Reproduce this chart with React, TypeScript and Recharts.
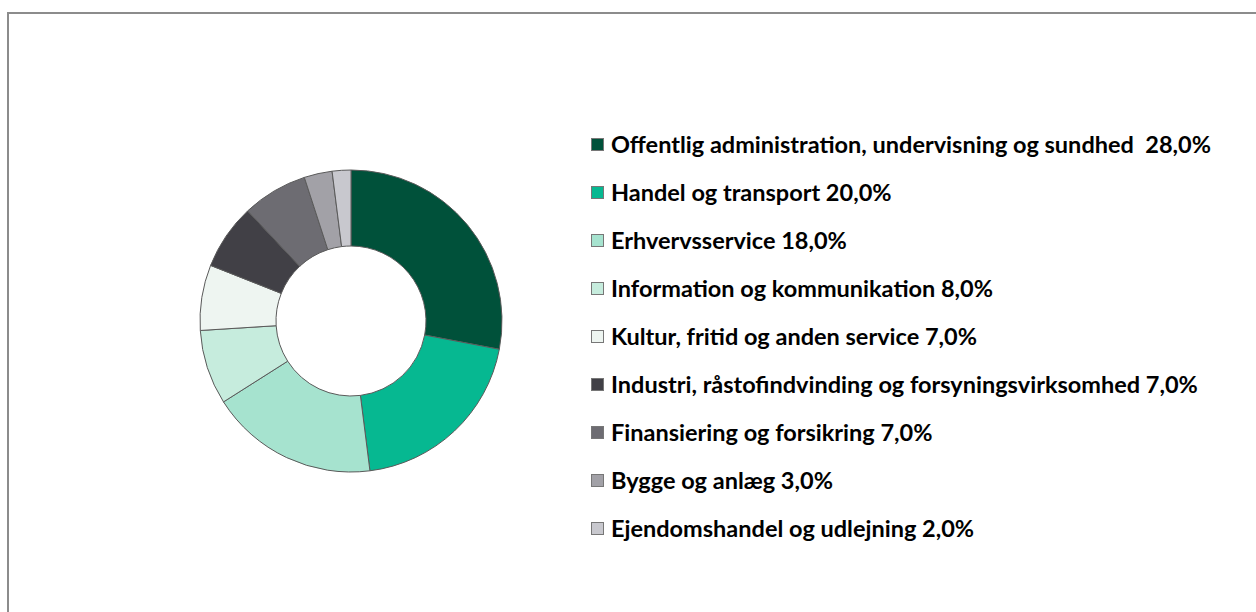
import { PieChart, Pie, Cell, Legend } from 'recharts';

const sectors = [
  'Offentlig administration, undervisning og sundhed ',
  'Handel og transport',
  'Erhvervsservice',
  'Information og kommunikation',
  'Kultur, fritid og anden service',
  'Industri, råstofindvinding og forsyningsvirksomhed',
  'Finansiering og forsikring',
  'Bygge og anlæg',
  'Ejendomshandel og udlejning',
];
const shares = [28, 20, 18, 8, 7, 7, 7, 3, 2];
const colors = ['#00513a', '#06b891', '#a6e3cf', '#c6ecdd', '#eef5f1', '#414046', '#6d6c72', '#a2a1a7', '#c8c8ce'];

const data = sectors.map((name, i) => ({ name, value: shares[i] }));

const fmt = (v: number) => v.toFixed(1).replace('.', ',') + '%';

function LegendList() {
  return (
    <div style={{ fontFamily: 'Lato, "Noto Sans", sans-serif', fontWeight: 700, fontSize: 23.5, color: '#000' }}>
      {data.map((d, i) => (
        <div key={d.name} style={{ height: 48, display: 'flex', alignItems: 'center', whiteSpace: 'pre' }}>
          <span style={{ display: 'inline-block', width: 11, height: 11, background: colors[i], border: '1px solid #777', marginRight: 7 }} />
          <span>{d.name + ' ' + fmt(d.value)}</span>
        </div>
      ))}
    </div>
  );
}

export default function App() {
  return (
    <div style={{ position: 'absolute', left: 0, top: 0, width: 1256, height: 612, background: '#fff' }}>
      <div style={{ position: 'absolute', left: 7, top: 12, right: 0, bottom: 0, borderTop: '2px solid #8c8c8c', borderLeft: '2px solid #8c8c8c' }} />
      <PieChart width={1256} height={612} margin={{ top: 0, right: 0, bottom: 0, left: 0 }} style={{ position: 'absolute', left: 0, top: 0 }}>
        <Pie
          data={data}
          dataKey="value"
          nameKey="name"
          cx={351}
          cy={321}
          innerRadius={75}
          outerRadius={151}
          startAngle={90}
          endAngle={-270}
          stroke="#5a5a5a"
          strokeWidth={1}
          isAnimationActive={false}
        >
          {data.map((d, i) => (
            <Cell key={d.name} fill={colors[i]} />
          ))}
        </Pie>
        <Legend
          layout="vertical"
          content={() => <LegendList />}
          wrapperStyle={{ position: 'absolute', left: 591, top: 120, width: 660 }}
        />
      </PieChart>
    </div>
  );
}
